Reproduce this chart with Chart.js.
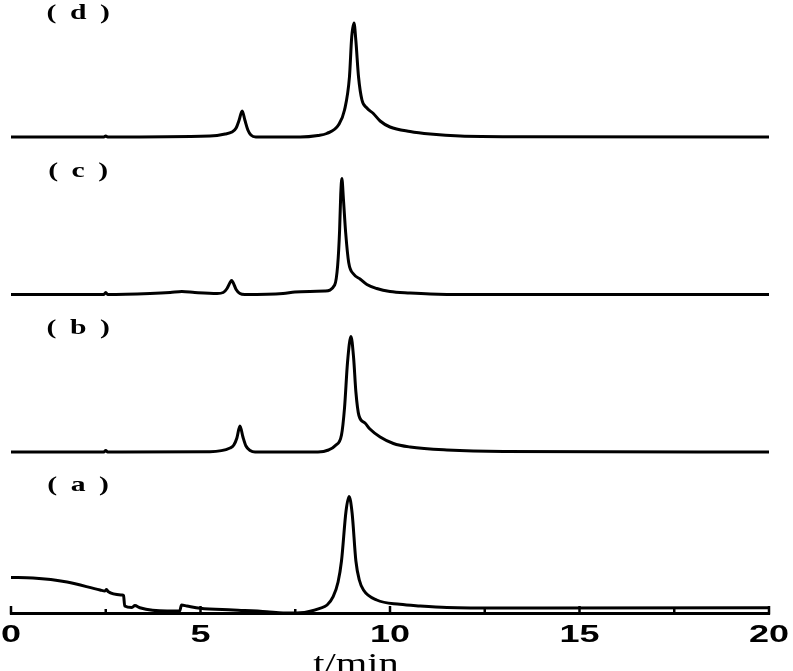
<!DOCTYPE html>
<html>
<head>
<meta charset="utf-8">
<title>Chromatograms (a)-(d)</title>
<script src="https://cdn.jsdelivr.net/npm/chart.js@4.4.0/dist/chart.umd.min.js"></script>
<style>
  body { margin: 0; background: #fff; }
  canvas { display: block; }
</style>
</head>
<body>
<canvas id="myChart" width="793" height="671"></canvas>
<script>
// retention time (min) and detector signal, one pair per trace
const timeA = [0, 0.58, 1.48, 2.35, 2.48, 2.52, 2.56, 2.93, 2.97, 3.0, 3.19, 3.27, 3.4, 4.12, 4.45, 4.5, 4.64, 4.99, 5.86, 6.75, 7.18, 7.63, 8.15, 8.34, 8.5, 8.63, 8.72, 8.84, 8.92, 9.0, 9.1, 9.19, 9.3, 9.65, 10.26, 10.79, 11.5, 13, 20];
const signalA = [31.5, 31, 27, 19, 18, 19.5, 17.5, 14, 13.5, 3, 1.5, 3.5, 1.3, -2, -2, 4, 3, 0.7, -1, -2.7, -4, -3.7, 0.7, 4, 12.3, 27, 48, 98, 112.5, 96, 48, 29, 19, 9, 4.7, 3, 1.5, 1, 1.2];

const timeB = [0, 2.45, 2.5, 2.55, 5.25, 5.78, 5.88, 5.96, 6.04, 6.12, 6.2, 6.31, 6.44, 8.1, 8.38, 8.56, 8.72, 8.8, 8.88, 8.97, 9.04, 9.1, 9.18, 9.34, 9.47, 9.74, 10.09, 10.53, 11.5, 13, 20];
const signalB = [0, 0, 1.5, 0, 0.3, 4, 7, 14, 26, 15, 6, 1.5, 0, 0, 2, 6.5, 17, 44, 90, 115.5, 94, 60, 36.5, 29, 23, 15, 8.5, 5, 2, 0.5, 0];

const timeC = [0, 2.45, 2.5, 2.55, 3.67, 4.2, 4.51, 4.85, 5.44, 5.6, 5.7, 5.78, 5.82, 5.86, 5.94, 6.04, 6.17, 7.18, 7.49, 7.89, 8.28, 8.54, 8.62, 8.67, 8.7, 8.73, 8.77, 8.83, 8.91, 9.05, 9.21, 9.39, 9.65, 10, 10.53, 11.06, 12, 20];
const signalC = [0, 0, 2, 0, 1, 2, 3, 2, 1, 2, 6, 12, 14, 12, 5, 1, 0, 1, 2.5, 3, 3.5, 9.5, 29.5, 64, 100, 116, 96, 62, 32, 20, 15.5, 10, 6, 3, 1.5, 0.5, 0, 0];

const timeD = [0, 2.45, 2.5, 2.55, 5.25, 5.65, 5.83, 5.94, 6.02, 6.1, 6.17, 6.25, 6.33, 6.46, 7.63, 8.1, 8.33, 8.64, 8.8, 8.93, 8.99, 9.05, 9.1, 9.17, 9.26, 9.39, 9.56, 9.74, 10, 10.53, 11.06, 11.85, 13.43, 20];
const signalD = [0, 0, 1, 0, 1, 3, 5, 9, 17, 26, 17, 7, 2, 0, 0, 1.5, 3.5, 12, 27, 60, 100, 114, 96, 60, 37, 29, 23.5, 16, 10, 5.5, 3, 1, 0.3, 0];

const traceNames = ['a', 'b', 'c', 'd'];
const traceOffsets = [4, 161, 318.5, 476];
const minorTicks = [2.5, 7.5, 12.5, 17.5];
const axisTitle = 't/min';

const traces = [[timeA, signalA], [timeB, signalB], [timeC, signalC], [timeD, signalD]];

const toPoints = (times, values, offset) => times.map((t, i) => ({ x: t, y: values[i] + offset }));

const datasets = traces.map(([times, values], i) => ({
    label: '(' + traceNames[i] + ')',
    data: toPoints(times, values, traceOffsets[i]),
    borderColor: '#000',
    borderWidth: 3,
    pointRadius: 0,
    fill: false,
    cubicInterpolationMode: 'monotone'
}));

const wideText = (ctx, text, x, y, sx) => {
    ctx.save();
    ctx.translate(x, y);
    ctx.scale(sx, 1);
    ctx.fillText(text, 0, 0);
    ctx.restore();
};

// inward ticks, stretched tick labels, trace labels and the axis title
const decorPlugin = {
    id: 'decor',
    afterDraw(chart) {
        const { ctx, scales: { x, y } } = chart;
        const axisY = x.top;
        ctx.save();
        ctx.strokeStyle = '#000';
        ctx.fillStyle = '#000';
        ctx.lineWidth = 2.5;
        ctx.beginPath();
        x.ticks.forEach(tick => {
            const px = x.getPixelForValue(tick.value);
            ctx.moveTo(px, axisY + 1.5);
            ctx.lineTo(px, axisY - 7);
        });
        minorTicks.forEach(v => {
            const px = x.getPixelForValue(v);
            ctx.moveTo(px, axisY + 1.5);
            ctx.lineTo(px, axisY - 4);
        });
        ctx.stroke();

        ctx.textAlign = 'center';
        ctx.textBaseline = 'alphabetic';
        ctx.font = 'bold 24px "Liberation Sans", Arial, sans-serif';
        x.ticks.forEach(tick => {
            const px = x.getPixelForValue(tick.value);
            wideText(ctx, String(tick.label ?? tick.value), px, axisY + 28.5, 1.5);
        });

        ctx.font = 'bold 22px "Liberation Serif", "Times New Roman", serif';
        ctx.letterSpacing = '10px';
        traceNames.forEach((name, i) => {
            const py = y.getPixelForValue(traceOffsets[i] + 118);
            wideText(ctx, '(' + name + ')', x.getPixelForValue(1.95), py, 1.35);
        });
        ctx.letterSpacing = '0px';

        ctx.font = '30px "Liberation Serif", "Times New Roman", serif';
        wideText(ctx, axisTitle, x.getPixelForValue(9.1), axisY + 60, 1.35);
        ctx.restore();
    }
};

const ctx = document.getElementById('myChart').getContext('2d');

new Chart(ctx, {
    type: 'line',
    data: { datasets: datasets },
    options: {
        responsive: false,
        animation: false,
        layout: { padding: { left: 11, right: 24, top: 0, bottom: 58 } },
        plugins: {
            legend: { display: false },
            tooltip: { enabled: false }
        },
        scales: {
            x: {
                type: 'linear',
                min: 0,
                max: 20,
                ticks: { display: false, stepSize: 5 },
                grid: { display: true, drawOnChartArea: false, drawTicks: false },
                border: { display: true, color: '#000', width: 3 }
            },
            y: {
                display: false,
                min: 0,
                max: 613
            }
        }
    },
    plugins: [decorPlugin]
});
</script>
</body>
</html>
